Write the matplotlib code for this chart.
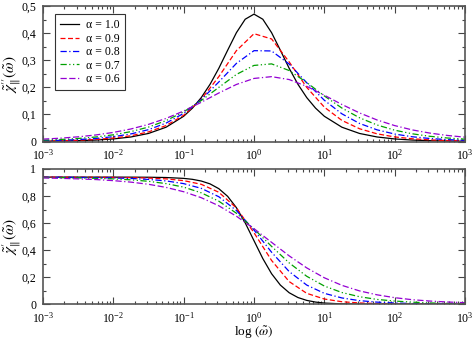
import numpy as np
import matplotlib
matplotlib.use('Agg')
import matplotlib.pyplot as plt
from matplotlib.ticker import FuncFormatter, MultipleLocator, LogLocator, NullFormatter, LogFormatterSciNotation

plt.rcParams['font.family'] = ['Liberation Serif', 'DejaVu Serif']
plt.rcParams['mathtext.fontset'] = 'stix'

log_w = [-3.0, -2.75, -2.5, -2.25, -2.0, -1.75, -1.5, -1.25, -1.0, -0.75, -0.5, -0.25,
         0.0, 0.25, 0.5, 0.75, 1.0, 1.25, 1.5, 1.75, 2.0, 2.25, 2.5, 2.75, 3.0]
# the alpha = 1 curve is read on a finer grid around its peak
log_w_black = [-3.0, -2.75, -2.5, -2.25, -2.0, -1.75, -1.5, -1.25, -1.0, -0.875, -0.75,
               -0.625, -0.5, -0.375, -0.25, -0.125, 0.0, 0.125, 0.25, 0.375, 0.5, 0.625,
               0.75, 0.875, 1.0, 1.25, 1.5, 1.75, 2.0, 2.25, 2.5, 2.75, 3.0]
decades = [1e-3, 1e-2, 1e-1, 1e0, 1e1, 1e2, 1e3]

alphas = ['1.0', '0.9', '0.8', '0.7', '0.6']

# imaginary part chi''
chi2_10 = [0.0009, 0.0017, 0.0030, 0.0053, 0.0094, 0.0167, 0.0297, 0.0527, 0.0931, 0.1232, 0.1620,
           0.2110, 0.2702, 0.3366, 0.4016, 0.4512, 0.4700, 0.4512, 0.4016, 0.3366, 0.2702, 0.2110,
           0.1620, 0.1232, 0.0931, 0.0527, 0.0297, 0.0167, 0.0094, 0.0053, 0.0030, 0.0017, 0.0009]
chi2_09 = [0.0016, 0.0027, 0.0045, 0.0076, 0.0127, 0.0212, 0.0354, 0.0588, 0.0967, 0.1556, 0.2394,
           0.3353, 0.3978, 0.3784, 0.2937, 0.1997, 0.1267, 0.0778, 0.0471, 0.0283, 0.0169, 0.0101,
           0.0060, 0.0036, 0.0021]
chi2_08 = [0.0028, 0.0045, 0.0071, 0.0113, 0.0178, 0.0280, 0.0437, 0.0679, 0.1038, 0.1545, 0.2197,
           0.2883, 0.3352, 0.3341, 0.2858, 0.2168, 0.1522, 0.1021, 0.0667, 0.0430, 0.0275, 0.0175,
           0.0111, 0.0070, 0.0044]
chi2_07 = [0.0050, 0.0075, 0.0112, 0.0166, 0.0247, 0.0364, 0.0532, 0.0770, 0.1095, 0.1512, 0.1998,
           0.2475, 0.2807, 0.2864, 0.2619, 0.2177, 0.1681, 0.1234, 0.0876, 0.0609, 0.0418, 0.0284,
           0.0192, 0.0129, 0.0087]
chi2_06 = [0.0088, 0.0123, 0.0173, 0.0241, 0.0335, 0.0462, 0.0632, 0.0852, 0.1126, 0.1447, 0.1790,
           0.2105, 0.2327, 0.2393, 0.2286, 0.2035, 0.1708, 0.1366, 0.1055, 0.0794, 0.0587, 0.0428,
           0.0310, 0.0223, 0.0159]

# real part chi'
chi1_10 = [0.9400, 0.9400, 0.9400, 0.9400, 0.9399, 0.9397, 0.9391, 0.9370, 0.9307, 0.9236, 0.9111,
           0.8900, 0.8545, 0.7981, 0.7140, 0.6017, 0.4700, 0.3383, 0.2260, 0.1419, 0.0855, 0.0500,
           0.0288, 0.0164, 0.0093, 0.0030, 0.0009, 0.0003, 0.0001, 0.0, 0.0, 0.0, 0.0]
chi1_09 = [0.940, 0.940, 0.939, 0.939, 0.938, 0.936, 0.933, 0.927, 0.914, 0.887, 0.828, 0.712,
           0.529, 0.324, 0.168, 0.081, 0.039, 0.019, 0.0099, 0.0054, 0.0030, 0.0017, 0.0010,
           0.0006, 0.0003]
chi1_08 = [0.939, 0.939, 0.938, 0.936, 0.934, 0.930, 0.923, 0.912, 0.892, 0.857, 0.795, 0.693,
           0.549, 0.385, 0.242, 0.142, 0.081, 0.047, 0.027, 0.016, 0.0098, 0.0060, 0.0037,
           0.0023, 0.0015]
chi1_07 = [0.937, 0.936, 0.934, 0.931, 0.927, 0.920, 0.909, 0.892, 0.866, 0.824, 0.762, 0.673,
           0.557, 0.428, 0.306, 0.207, 0.135, 0.087, 0.056, 0.036, 0.024, 0.016, 0.010,
           0.0068, 0.0045]
chi1_06 = [0.934, 0.931, 0.927, 0.922, 0.914, 0.903, 0.887, 0.864, 0.832, 0.788, 0.728, 0.651,
           0.559, 0.458, 0.358, 0.269, 0.196, 0.140, 0.099, 0.070, 0.049, 0.034, 0.024,
           0.017, 0.012]

colors = ['black', '#ff0000', '#0000ff', '#00a000', '#9400d3']
styles = ['-', (0, (4, 2)), (0, (5, 2, 1, 2)), (0, (5, 2, 1, 2, 1, 2)), (0, (5, 2, 5, 2, 1, 2))]


def comma(v, pos):
    return ('%g' % v).replace('.', ',')


def style_axis(ax, ymax, ymajor):
    ax.set_xscale('log')
    ax.set_xlim(1e-3, 1e3)
    ax.set_ylim(0, ymax)
    ax.set_xticks(decades)
    ax.xaxis.set_major_formatter(LogFormatterSciNotation())
    ax.xaxis.set_minor_locator(LogLocator(base=10, subs=np.arange(2, 10), numticks=10))
    ax.xaxis.set_minor_formatter(NullFormatter())
    ax.yaxis.set_major_locator(MultipleLocator(ymajor))
    ax.yaxis.set_minor_locator(MultipleLocator(ymajor / 2))
    ax.yaxis.set_major_formatter(FuncFormatter(comma))
    ax.tick_params(which='both', direction='in', top=True, right=True, labelsize=8.5,
                   color='#444444', width=0.8)
    ax.tick_params(which='major', length=5)
    ax.tick_params(which='minor', length=2.5)
    ax.tick_params(axis='x', which='major', pad=5)
    ax.tick_params(axis='y', which='major', pad=5)
    for sp in ax.spines.values():
        sp.set_color('#555555')
        sp.set_linewidth(1.2)


fig = plt.figure(figsize=(4.75, 3.4), dpi=100)
ax1 = fig.add_axes([43 / 475, 1 - 141.5 / 340, 422 / 475, 135.5 / 340])
ax2 = fig.add_axes([43 / 475, 1 - 304.3 / 340, 422 / 475, 135.3 / 340])

w = np.power(10.0, log_w)
w_black = np.power(10.0, log_w_black)

top = [chi2_10, chi2_09, chi2_08, chi2_07, chi2_06]
bottom = [chi1_10, chi1_09, chi1_08, chi1_07, chi1_06]
for i in range(5):
    x = w_black if i == 0 else w
    ax1.plot(x, top[i], color=colors[i], ls=styles[i], lw=0.9, label=u'\u03b1 = ' + alphas[i])
    ax2.plot(x, bottom[i], color=colors[i], ls=styles[i], lw=0.9)

style_axis(ax1, 0.5, 0.1)
style_axis(ax2, 1.0, 0.2)

ax1.set_ylabel(r"$\tilde{\chi}^{\prime\prime}_{\Vert}(\tilde{\omega})$", fontsize=11)
ax2.set_ylabel(r"$\tilde{\chi}^{\prime}_{\Vert}(\tilde{\omega})$", fontsize=11)
ax1.yaxis.set_label_coords(-0.048, 0.5)
ax2.yaxis.set_label_coords(-0.048, 0.5)
ax2.set_xlabel(r"log $(\tilde{\omega})$", fontsize=9.5)
ax2.xaxis.set_label_coords(0.5, -0.147)

leg = ax1.legend(loc='upper left', bbox_to_anchor=(12 / 422, 1 - 8 / 135.5), borderaxespad=0,
                 fontsize=8.5, handlelength=1.6, handletextpad=0.6, labelspacing=0.12,
                 fancybox=False, framealpha=1, borderpad=0.45)
leg.get_frame().set_edgecolor('#333333')
leg.get_frame().set_linewidth(0.8)

fig.savefig('out.png', dpi=100)
